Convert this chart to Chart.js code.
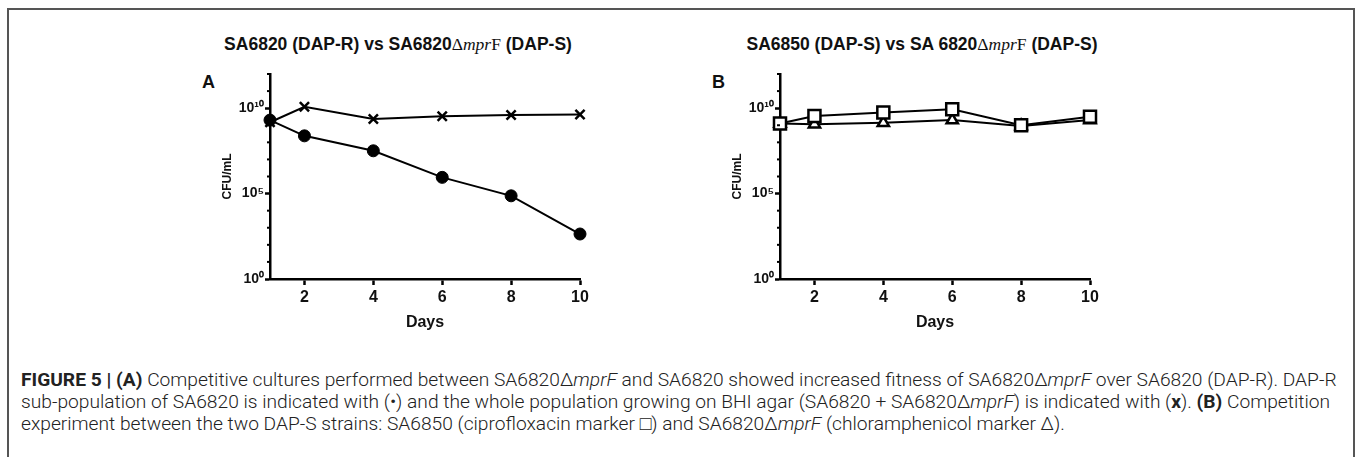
<!DOCTYPE html>
<html><head><meta charset="utf-8">
<script src="https://cdn.jsdelivr.net/npm/chart.js@4.4.1/dist/chart.umd.min.js"></script>
<style>
html,body{margin:0;padding:0;background:#fff;width:1358px;height:457px;overflow:hidden;}
#frame{position:absolute;left:7px;top:8px;width:1348px;height:470px;border:2px solid #555;border-bottom:none;box-sizing:border-box;}
.title{position:absolute;top:34px;line-height:20px;font-family:"Liberation Sans",Arial,sans-serif;font-weight:bold;font-size:17.5px;color:#111;white-space:nowrap;transform:translateX(-50%);}
.title .sf{font-family:"Liberation Serif","Times New Roman",serif;font-weight:normal;}
.plabel{position:absolute;top:72px;line-height:20px;font-family:"Liberation Sans",Arial,sans-serif;font-weight:bold;font-size:18px;color:#111;}
canvas{position:absolute;top:60px;}
#caption{position:absolute;left:21px;top:369px;font-family:Roboto,"Liberation Sans",sans-serif;font-weight:300;color:#222;font-size:14px;line-height:22px;}
.cl{white-space:nowrap;}
#caption b{font-weight:bold;}
</style>
</head><body>
<div id="frame"></div>
<div class="title" style="left:398px;">SA6820 (DAP-R) vs SA6820<span class="sf">Δ<i>mpr</i>F</span> (DAP-S)</div>
<div class="title" style="left:922px;">SA6850 (DAP-S) vs SA 6820<span class="sf">Δ<i>mpr</i>F</span> (DAP-S)</div>
<div class="plabel" style="left:202px;">A</div>
<div class="plabel" style="left:712px;">B</div>
<canvas id="cA" width="402" height="280" style="left:190px;"></canvas>
<canvas id="cB" width="402" height="280" style="left:700px;"></canvas>
<div id="caption">
<div class="cl" id="l1"><b>FIGURE 5 | (A)</b> Competitive cultures performed between SA6820Δ<i>mprF</i> and SA6820 showed increased fitness of SA6820Δ<i>mprF</i> over SA6820 (DAP-R). DAP-R</div>
<div class="cl">sub-population of SA6820 is indicated with (•) and the whole population growing on BHI agar (SA6820 + SA6820Δ<i>mprF</i>) is indicated with (<b>x</b>). <b>(B)</b> Competition</div>
<div class="cl">experiment between the two DAP-S strains: SA6850 (ciprofloxacin marker □) and SA6820Δ<i>mprF</i> (chloramphenicol marker Δ).</div>
</div>
<script>
// ---- data ----
const days = [1, 2, 4, 6, 8, 10];
const xTickValues = [2, 4, 6, 8, 10];
const yDecades = [0,1,2,3,4,5,6,7,8,9,10,11,12];
const yLabelExps = [0, 5, 10];
const yLabelTexts = ['10⁰', '10⁵', '10¹⁰'];
// Panel A (CFU/mL)
const dapRSubpop = [2.0e9, 2.4e8, 3.2e7, 8.9e5, 7.4e4, 4.3e2];   // filled circles
const wholePop   = [1.5e9, 1.2e10, 2.3e9, 3.4e9, 4.0e9, 4.3e9];  // x marks
// Panel B (CFU/mL)
const sa6850Cipro   = [1.26e9, 3.5e9, 5.6e9, 8.7e9, 1.0e9, 3.1e9]; // open squares
const mprFChloram   = [1.26e9, 1.15e9, 1.4e9, 2.0e9, 8.9e8, 2.0e9]; // open triangles

const pts = vals => days.map((d, i) => ({x: d, y: vals[i]}));
const FONT = '"Liberation Sans", Arial, sans-serif';

const minorTicks = {
  id: 'minorTicks',
  afterDraw(chart) {
    const y = chart.scales.y, ctx = chart.ctx;
    ctx.save(); ctx.strokeStyle = '#000'; ctx.lineWidth = 2;
    yDecades.forEach(k => {
      if (yLabelExps.includes(k)) return;
      const py = y.getPixelForValue(Math.pow(10, k));
      ctx.beginPath(); ctx.moveTo(y.right - 3, py); ctx.lineTo(y.right, py); ctx.stroke();
    });
    ctx.restore();
  }
};

function makeChart(id, datasets) {
  return new Chart(document.getElementById(id), {
    type: 'line',
    data: { datasets },
    plugins: [minorTicks],
    options: {
      responsive: false, animation: false, devicePixelRatio: 1,
      layout: { padding: { left: 0, right: 12, top: 14, bottom: 0 } },
      plugins: { legend: { display: false }, tooltip: { enabled: false } },
      scales: {
        x: {
          type: 'linear', min: 1, max: 10,
          afterBuildTicks: s => { s.ticks = xTickValues.map(v => ({ value: v })); },
          afterFit: s => { s.height = 61; },
          grid: { drawOnChartArea: false, drawTicks: true, tickLength: 6, tickWidth: 2.5, tickColor: '#000' },
          border: { display: true, color: '#000', width: 2.5 },
          ticks: { color: '#111', autoSkip: false, maxRotation: 0, padding: 3, font: { family: FONT, weight: 'bold', size: 16 } },
          title: { display: true, text: 'Days', color: '#111', font: { family: FONT, weight: 'bold', size: 16 }, padding: { top: 0, bottom: 8 } }
        },
        y: {
          type: 'logarithmic', min: 1, max: 1e12,
          afterBuildTicks: s => { s.ticks = yDecades.map(k => ({ value: Math.pow(10, k) })); },
          afterFit: s => { s.width = 80; },
          grid: { drawOnChartArea: false, drawTicks: true, tickLength: 5, tickWidth: 2.5,
                  tickColor: c => { const k = Math.round(Math.log10(c.tick.value)); return yLabelExps.includes(k) ? '#000' : 'rgba(0,0,0,0)'; } },
          border: { display: true, color: '#000', width: 2.5 },
          ticks: { color: '#111', autoSkip: false, padding: 1, font: { family: FONT, weight: 'bold', size: 14 },
                   callback: v => { const i = yLabelExps.indexOf(Math.round(Math.log10(v))); return i >= 0 ? yLabelTexts[i] : ''; } },
          title: { display: true, text: 'CFU/mL', color: '#111', font: { family: FONT, weight: 'bold', size: 12 }, padding: { top: 30, bottom: 0 } }
        }
      }
    }
  });
}

makeChart('cA', [
  { data: pts(dapRSubpop), borderColor: '#000', borderWidth: 2, pointStyle: 'circle', pointRadius: 6,
    pointBackgroundColor: '#000', pointBorderColor: '#000', pointBorderWidth: 1, clip: false },
  { data: pts(wholePop), borderColor: '#000', borderWidth: 2, pointStyle: 'crossRot', pointRadius: 6.5,
    pointBorderColor: '#000', pointBorderWidth: 2.5, clip: false }
]);
makeChart('cB', [
  { data: pts(sa6850Cipro), borderColor: '#000', borderWidth: 2, pointStyle: 'rect', pointRadius: 8.5,
    pointBackgroundColor: '#fff', pointBorderColor: '#000', pointBorderWidth: 2.5, clip: false },
  { data: pts(mprFChloram), borderColor: '#000', borderWidth: 2, pointStyle: 'triangle', pointRadius: 6.5,
    pointBackgroundColor: '#fff', pointBorderColor: '#000', pointBorderWidth: 2.5, clip: false }
]);

// fit caption width to the reference line length
const l1 = document.getElementById('l1');
const w = l1.getBoundingClientRect().width;
const cap = document.getElementById('caption');
cap.style.fontSize = (14 * 1316 / w).toFixed(2) + 'px';
</script>
</body></html>
